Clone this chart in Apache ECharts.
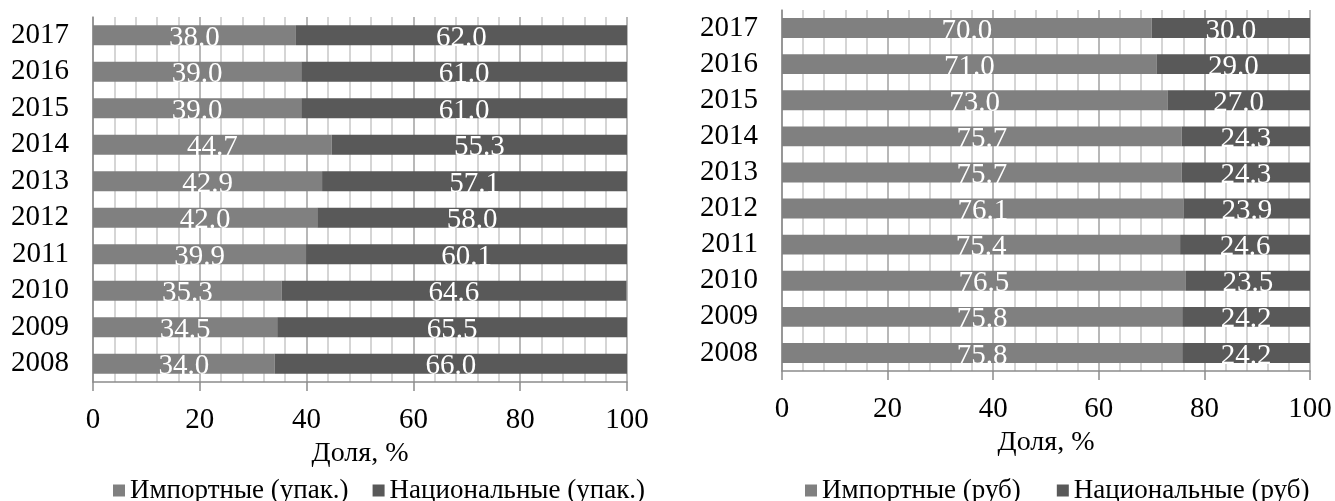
<!DOCTYPE html>
<html>
<head>
<meta charset="utf-8">
<script src="https://cdn.jsdelivr.net/npm/echarts@6/dist/echarts.min.js"></script>
<style>
	html, body { margin: 0; padding: 0; background: #fff; }
	#chart { width: 1335px; height: 501px; }
</style>
</head>
<body>
<div id="chart"></div>
<script>
var years = ['2008', '2009', '2010', '2011', '2012', '2013', '2014', '2015', '2016', '2017'];
// упаковки
var importPack = [34.0, 34.5, 35.3, 39.9, 42.0, 42.9, 44.7, 39.0, 39.0, 38.0];
var nationalPack = [66.0, 65.5, 64.6, 60.1, 58.0, 57.1, 55.3, 61.0, 61.0, 62.0];
// рубли
var importRub = [75.8, 75.8, 76.5, 75.4, 76.1, 75.7, 75.7, 73.0, 71.0, 70.0];
var nationalRub = [24.2, 24.2, 23.5, 24.6, 23.9, 24.3, 24.3, 27.0, 29.0, 30.0];
var xTicks = [0, 20, 40, 60, 80, 100];

var font = '"Liberation Serif", "Times New Roman", serif';
var cImport = '#808080';
var cNational = '#595959';

function xAxis(idx){
	return {
		type: 'value',
		gridIndex: idx,
		min: xTicks[0],
		max: xTicks[xTicks.length - 1],
		interval: xTicks[1] - xTicks[0],
		name: 'Доля, %',
		nameLocation: 'middle',
		nameGap: 47,
		nameTextStyle: { fontFamily: font, fontSize: 28, color: '#000' },
		axisLine: { show: true, lineStyle: { color: '#8c8c8c', width: 1.5 } },
		axisTick: { show: true, length: 9, lineStyle: { color: '#8c8c8c', width: 1.5 } },
		axisLabel: { fontFamily: font, fontSize: 29, color: '#000', margin: 24 },
		splitLine: { show: true, lineStyle: { color: '#a0a0a0', width: 1.5 } },
		minorTick: { show: false, splitNumber: 5 },
		minorSplitLine: { show: true, lineStyle: { color: '#c8c8c8', width: 1.5 } }
	};
}

function yAxis(idx){
	return {
		type: 'category',
		gridIndex: idx,
		data: years,
		axisLine: { show: true, lineStyle: { color: '#8c8c8c', width: 1.5 } },
		axisTick: { show: false },
		axisLabel: { fontFamily: font, fontSize: 29, color: '#000', margin: 24, interval: 0 },
		splitLine: { show: false }
	};
}

function bar(name, data, idx, color){
	return {
		name: name,
		type: 'bar',
		stack: 'g' + idx,
		xAxisIndex: idx,
		yAxisIndex: idx,
		data: data,
		barWidth: '55%',
		itemStyle: { color: color },
		label: {
			show: true,
			position: 'inside',
			offset: [0, 3],
			color: '#fff',
			fontFamily: font,
			fontSize: 29,
			formatter: function(p){ return p.value.toFixed(1); }
		}
	};
}

var myChart = echarts.init(document.getElementById('chart'));
myChart.setOption({
	animation: false,
	grid: [
		{ left: 93, right: 708, top: 17, bottom: 119 },
		{ left: 782, right: 25, top: 10, bottom: 130 }
	],
	legend: [
		{
			data: ['Импортные (упак.)', 'Национальные (упак.)'],
			left: 108, top: 472,
			icon: 'rect', itemWidth: 12, itemHeight: 12, itemGap: 24,
			textStyle: { fontFamily: font, fontSize: 27, color: '#000' }
		},
		{
			data: ['Импортные (руб)', 'Национальные (руб)'],
			left: 800, top: 472,
			icon: 'rect', itemWidth: 12, itemHeight: 12, itemGap: 36,
			textStyle: { fontFamily: font, fontSize: 27, color: '#000' }
		}
	],
	xAxis: [xAxis(0), xAxis(1)],
	yAxis: [yAxis(0), yAxis(1)],
	series: [
		bar('Импортные (упак.)', importPack, 0, cImport),
		bar('Национальные (упак.)', nationalPack, 0, cNational),
		bar('Импортные (руб)', importRub, 1, cImport),
		bar('Национальные (руб)', nationalRub, 1, cNational)
	]
});
</script>
</body>
</html>
